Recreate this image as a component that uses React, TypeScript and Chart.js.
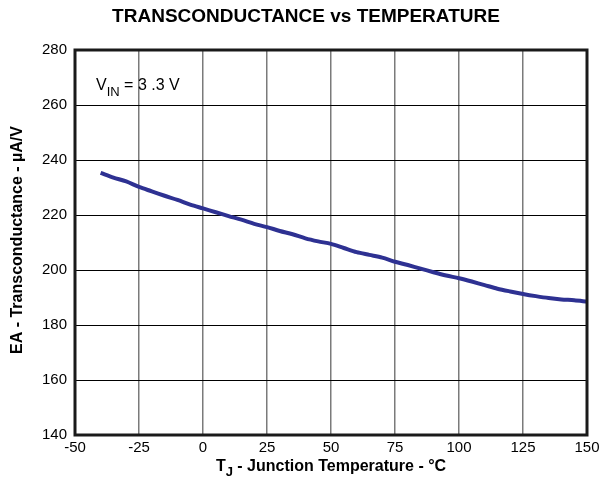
import React, { useEffect, useRef } from "react";
import { Chart, registerables } from "chart.js";

Chart.register(...registerables);

const temperatures = [-40, -35, -30, -25, -20, -15, -10, -5, 0, 5, 10, 15, 20, 25, 30, 35, 40, 45, 50, 55, 60, 65, 70, 75, 80, 85, 90, 95, 100, 105, 110, 115, 120, 125, 130, 135, 140, 145, 150];
const transconductance = [235.3, 233.6, 232.2, 230.2, 228.6, 227.0, 225.5, 223.8, 222.4, 221.0, 219.6, 218.3, 216.8, 215.6, 214.2, 213.0, 211.5, 210.4, 209.5, 208.0, 206.5, 205.5, 204.5, 203.0, 201.8, 200.5, 199.2, 198.0, 197.0, 195.8, 194.5, 193.2, 192.2, 191.3, 190.5, 189.8, 189.3, 189.0, 188.5];
const xTicks = [-50, -25, 0, 25, 50, 75, 100, 125, 150];
const yTicks = [140, 160, 180, 200, 220, 240, 260, 280];

const FONT = "'Liberation Sans', Arial, sans-serif";

const textPlugin = {
  id: "texts",
  afterDraw(chart: any) {
    const ctx = chart.ctx;
    const a = chart.chartArea;
    ctx.save();
    // border
    ctx.strokeStyle = "#1a1a1a";
    ctx.lineWidth = 3;
    ctx.strokeRect(a.left, a.top, a.right - a.left, a.bottom - a.top);

    ctx.fillStyle = "#000";
    // title
    ctx.font = `bold 19px ${FONT}`;
    ctx.textAlign = "center";
    ctx.textBaseline = "middle";
    ctx.fillText("TRANSCONDUCTANCE vs TEMPERATURE", 306, 17);

    const drawParts = (parts: [string, boolean][], startX: number, cy: number, size: number, subSize: number, subDy: number, bold: boolean, center: boolean) => {
      const f = (s: number) => `${bold ? "bold " : ""}${s}px ${FONT}`;
      let total = 0;
      for (const [t, sub] of parts) {
        ctx.font = f(sub ? subSize : size);
        total += ctx.measureText(t).width;
      }
      let x = center ? startX - total / 2 : startX;
      ctx.textAlign = "left";
      for (const [t, sub] of parts) {
        ctx.font = f(sub ? subSize : size);
        ctx.fillText(t, x, sub ? cy + subDy : cy);
        x += ctx.measureText(t).width;
      }
    };
    ctx.textBaseline = "middle";
    drawParts([["T", false], ["J", true], [" - Junction Temperature - °C", false]], (a.left + a.right) / 2, 467, 16, 13, 5, true, true);

    // annotation
    drawParts([["V", false], ["IN", true], [" = 3 .3 V", false]], 96, 86, 16, 13, 6, false, false);

    // y title
    ctx.translate(18, 240);
    ctx.rotate(-Math.PI / 2);
    ctx.font = `bold 16px ${FONT}`;
    ctx.textAlign = "center";
    ctx.fillText("EA - Transconductance - µA/V", 0, 0);
    ctx.restore();
  },
};

export default function App() {
  const ref = useRef<HTMLCanvasElement>(null);
  useEffect(() => {
    document.body.style.margin = "0";
    const chart = new Chart(ref.current!, {
      type: "scatter",
      data: {
        datasets: [
          {
            data: temperatures.map((t, i) => ({ x: t, y: transconductance[i] })),
            showLine: true,
            borderColor: "#2e3192",
            borderWidth: 4,
            pointRadius: 0,
            tension: 0.3,
          },
        ],
      },
      options: {
        animation: false,
        responsive: false,
        layout: { padding: { left: 0, top: 50, right: 25, bottom: 0 } },
        plugins: { legend: { display: false }, tooltip: { enabled: false } },
        scales: {
          x: {
            type: "linear",
            min: -50,
            max: 150,
            afterBuildTicks: (s: any) => {
              s.ticks = xTicks.map((v) => ({ value: v }));
            },
            afterFit: (s: any) => {
              s.height = 48;
            },
            grid: { color: "#7a7a7a", lineWidth: 1.5, drawTicks: false },
            border: { display: false },
            ticks: { color: "#000", font: { family: FONT, size: 15 }, padding: 4, maxRotation: 0 },
          },
          y: {
            min: 140,
            max: 280,
            afterBuildTicks: (s: any) => {
              s.ticks = yTicks.map((v) => ({ value: v }));
            },
            afterFit: (s: any) => {
              s.width = 75;
            },
            grid: { color: "#000", lineWidth: 1, drawTicks: false },
            border: { display: false },
            ticks: { color: "#000", font: { family: FONT, size: 15 }, padding: 8 },
          },
        },
      },
      plugins: [textPlugin],
    });
    return () => chart.destroy();
  }, []);
  return <canvas ref={ref} width={612} height={483} style={{ display: "block" }} />;
}
